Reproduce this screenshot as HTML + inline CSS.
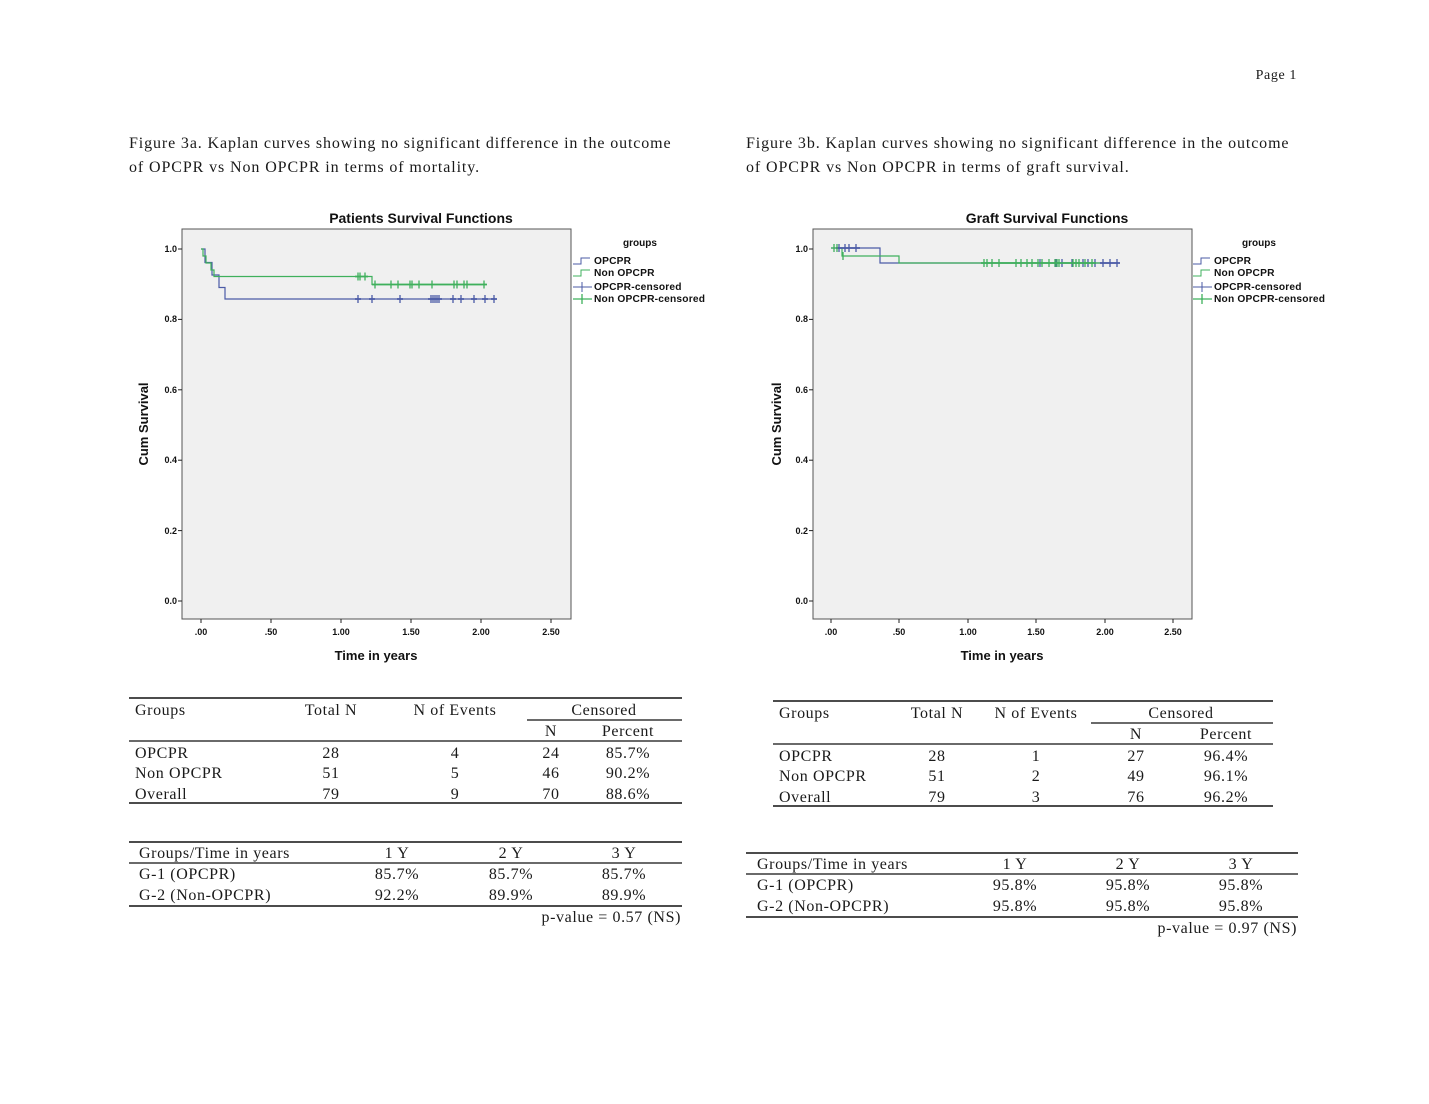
<!DOCTYPE html>
<html><head><meta charset="utf-8">
<style>
html,body{margin:0;padding:0;background:#fff;}
svg{display:block;}
.s{font-family:"Liberation Serif",serif;font-size:16px;fill:#1a1a1a;letter-spacing:0.6px;}
.tk{font-family:"Liberation Sans",sans-serif;font-size:9px;font-weight:bold;fill:#111;}
.ti{font-family:"Liberation Sans",sans-serif;font-size:14px;font-weight:bold;fill:#111;}
.lg{font-family:"Liberation Sans",sans-serif;font-size:10px;font-weight:bold;fill:#111;}
</style></head>
<body>
<svg width="1429" height="1104" viewBox="0 0 1429 1104" xmlns="http://www.w3.org/2000/svg">
<rect width="1429" height="1104" fill="#fff"/>
<text x="1297" y="79" text-anchor="end" class="s" style="font-size:14px">Page 1</text>

<text x="129" y="148" class="s" style="letter-spacing:0.88px">Figure 3a. Kaplan curves showing no significant difference in the outcome</text>
<text x="129" y="172" class="s" style="letter-spacing:0.9px">of OPCPR vs Non OPCPR in terms of mortality.</text>
<text x="746" y="148" class="s" style="letter-spacing:0.88px">Figure 3b. Kaplan curves showing no significant difference in the outcome</text>
<text x="746" y="172" class="s" style="letter-spacing:0.9px">of OPCPR vs Non OPCPR in terms of graft survival.</text>

<!-- LEFT CHART -->
<text x="421" y="223" text-anchor="middle" class="ti">Patients Survival Functions</text>
<rect x="182" y="229" width="389" height="390" fill="#f0f0f0" stroke="#555" stroke-width="1"/>
<g stroke="#222" stroke-width="1">
<line x1="178" y1="249" x2="182" y2="249"/><line x1="178" y1="319.4" x2="182" y2="319.4"/><line x1="178" y1="389.8" x2="182" y2="389.8"/><line x1="178" y1="460.2" x2="182" y2="460.2"/><line x1="178" y1="530.6" x2="182" y2="530.6"/><line x1="178" y1="601" x2="182" y2="601"/>
<line x1="201" y1="619" x2="201" y2="623"/><line x1="271" y1="619" x2="271" y2="623"/><line x1="341" y1="619" x2="341" y2="623"/><line x1="411" y1="619" x2="411" y2="623"/><line x1="481" y1="619" x2="481" y2="623"/><line x1="551" y1="619" x2="551" y2="623"/>
</g>
<g class="tk" text-anchor="end">
<text x="177" y="252">1.0</text><text x="177" y="322">0.8</text><text x="177" y="393">0.6</text><text x="177" y="463">0.4</text><text x="177" y="534">0.2</text><text x="177" y="604">0.0</text>
</g>
<g class="tk" text-anchor="middle">
<text x="201" y="635">.00</text><text x="271" y="635">.50</text><text x="341" y="635">1.00</text><text x="411" y="635">1.50</text><text x="481" y="635">2.00</text><text x="551" y="635">2.50</text>
</g>
<text x="376" y="660" text-anchor="middle" class="ti" style="font-size:13px">Time in years</text>
<text transform="translate(148,424) rotate(-90)" text-anchor="middle" class="ti" style="font-size:13px">Cum Survival</text>

<path d="M201,249 H205 V262.5 H212 V275 H219 V287.5 H225 V299 H495" fill="none" stroke="#4b5ba6" stroke-width="1.2"/>
<path d="M201,249 H203 V256 H206 V263 H211 V270 H214 V276.5 H372 V284.5 H486" fill="none" stroke="#3fb05c" stroke-width="1.2"/>
<g stroke="#4b5ba6" stroke-width="1.3">
<path d="M358,295v8M372,295v8M400,295v8M431,295v8M433,295v8M435,295v8M437,295v8M439,295v8M453,295v8M461,295v8M474,295v8M485,295v8M494,295v8"/>
<path d="M355,299h6M369,299h6M397,299h6M428,299h14M450,299h6M458,299h6M471,299h6M482,299h6M491,299h6" stroke-width="1.8"/>
</g>
<g stroke="#3fb05c" stroke-width="1.3">
<path d="M358,272.5v8M360,272.5v8M365,272.5v8M375,280.5v8M391,280.5v8M398,280.5v8M410,280.5v8M412,280.5v8M419,280.5v8M432,280.5v8M454,280.5v8M457,280.5v8M464,280.5v8M467,280.5v8M484,280.5v8"/>
<path d="M355,276.5h13M372,284.5h115" stroke-width="1.8"/>
</g>
<text x="640" y="246" text-anchor="middle" class="lg">groups</text>
<path d="M573,264 H581 V258 H590" fill="none" stroke="#4b5ba6"/>
<path d="M573,276 H581 V270 H590" fill="none" stroke="#3fb05c"/>
<path d="M573,287 H592 M582,282 V292" stroke="#4b5ba6"/>
<path d="M573,299 H592 M582,294 V304" stroke="#3fb05c" stroke-width="1.3"/>
<g class="lg" style="font-size:10.2px;letter-spacing:0.2px"><text x="594" y="264">OPCPR</text><text x="594" y="276">Non OPCPR</text><text x="594" y="290">OPCPR-censored</text><text x="594" y="302">Non OPCPR-censored</text></g>

<!-- RIGHT CHART -->
<text x="1047" y="223" text-anchor="middle" class="ti">Graft Survival Functions</text>
<rect x="813" y="229" width="379" height="390" fill="#f0f0f0" stroke="#555" stroke-width="1"/>
<g stroke="#222" stroke-width="1">
<line x1="809" y1="249" x2="813" y2="249"/><line x1="809" y1="319.4" x2="813" y2="319.4"/><line x1="809" y1="389.8" x2="813" y2="389.8"/><line x1="809" y1="460.2" x2="813" y2="460.2"/><line x1="809" y1="530.6" x2="813" y2="530.6"/><line x1="809" y1="601" x2="813" y2="601"/>
<line x1="831" y1="619" x2="831" y2="623"/><line x1="899" y1="619" x2="899" y2="623"/><line x1="968" y1="619" x2="968" y2="623"/><line x1="1036" y1="619" x2="1036" y2="623"/><line x1="1105" y1="619" x2="1105" y2="623"/><line x1="1173" y1="619" x2="1173" y2="623"/>
</g>
<g class="tk" text-anchor="end">
<text x="808" y="252">1.0</text><text x="808" y="322">0.8</text><text x="808" y="393">0.6</text><text x="808" y="463">0.4</text><text x="808" y="534">0.2</text><text x="808" y="604">0.0</text>
</g>
<g class="tk" text-anchor="middle">
<text x="831" y="635">.00</text><text x="899" y="635">.50</text><text x="968" y="635">1.00</text><text x="1036" y="635">1.50</text><text x="1105" y="635">2.00</text><text x="1173" y="635">2.50</text>
</g>
<text x="1002" y="660" text-anchor="middle" class="ti" style="font-size:13px">Time in years</text>
<text transform="translate(781,424) rotate(-90)" text-anchor="middle" class="ti" style="font-size:13px">Cum Survival</text>

<path d="M831,248 H880 V263 H1118" fill="none" stroke="#4b5ba6" stroke-width="1.2"/>
<path d="M831,248 H842 V256 H899 V263 H1100" fill="none" stroke="#3fb05c" stroke-width="1.2"/>
<g stroke="#4b5ba6" stroke-width="1.3">
<path d="M839,244v8M845,244v8M849,244v8M856,244v8M1040,259v8M1056,259v8M1062,259v8M1072,259v8M1083,259v8M1088,259v8M1095,259v8M1103,259v8M1110,259v8M1117,259v8"/>
<path d="M836,248h24M1100,263h20" stroke-width="1.8"/>
</g>
<g stroke="#3fb05c" stroke-width="1.3">
<path d="M834,244v8M837,244v8M843,252v8M984,259v8M987,259v8M992,259v8M999,259v8M1016,259v8M1021,259v8M1027,259v8M1032,259v8M1038,259v8M1042,259v8M1049,259v8M1055,259v8M1057,259v8M1059,259v8M1073,259v8M1076,259v8M1079,259v8M1085,259v8M1092,259v8"/>
<path d="M981,263h115" stroke-width="1.8"/>
</g>
<text x="1259" y="246" text-anchor="middle" class="lg">groups</text>
<path d="M1193,264 H1201 V258 H1210" fill="none" stroke="#4b5ba6"/>
<path d="M1193,276 H1201 V270 H1210" fill="none" stroke="#3fb05c"/>
<path d="M1193,287 H1212 M1202,282 V292" stroke="#4b5ba6"/>
<path d="M1193,299 H1212 M1202,294 V304" stroke="#3fb05c" stroke-width="1.3"/>
<g class="lg" style="font-size:10.2px;letter-spacing:0.2px"><text x="1214" y="264">OPCPR</text><text x="1214" y="276">Non OPCPR</text><text x="1214" y="290">OPCPR-censored</text><text x="1214" y="302">Non OPCPR-censored</text></g>

<!-- LEFT TABLE 1 -->
<g stroke="#111">
<line x1="129" y1="698" x2="682" y2="698" stroke-width="1.5"/>
<line x1="527" y1="720" x2="682" y2="720" stroke-width="1.2"/>
<line x1="129" y1="741" x2="682" y2="741" stroke-width="1.2"/>
<line x1="129" y1="803" x2="682" y2="803" stroke-width="1.5"/>
<line x1="129" y1="842" x2="682" y2="842" stroke-width="1.5"/>
<line x1="129" y1="863" x2="682" y2="863" stroke-width="1.2"/>
<line x1="129" y1="906" x2="682" y2="906" stroke-width="1.5"/>
</g>
<g class="s">
<text x="135" y="715">Groups</text>
<text x="331" y="715" text-anchor="middle">Total N</text>
<text x="455" y="715" text-anchor="middle">N of Events</text>
<text x="604" y="715" text-anchor="middle">Censored</text>
<text x="551" y="736" text-anchor="middle">N</text>
<text x="628" y="736" text-anchor="middle">Percent</text>
<text x="135" y="758">OPCPR</text><text x="331" y="758" text-anchor="middle">28</text><text x="455" y="758" text-anchor="middle">4</text><text x="551" y="758" text-anchor="middle">24</text><text x="628" y="758" text-anchor="middle">85.7%</text>
<text x="135" y="778">Non OPCPR</text><text x="331" y="778" text-anchor="middle">51</text><text x="455" y="778" text-anchor="middle">5</text><text x="551" y="778" text-anchor="middle">46</text><text x="628" y="778" text-anchor="middle">90.2%</text>
<text x="135" y="799">Overall</text><text x="331" y="799" text-anchor="middle">79</text><text x="455" y="799" text-anchor="middle">9</text><text x="551" y="799" text-anchor="middle">70</text><text x="628" y="799" text-anchor="middle">88.6%</text>
<text x="139" y="858">Groups/Time in years</text><text x="397" y="858" text-anchor="middle">1 Y</text><text x="511" y="858" text-anchor="middle">2 Y</text><text x="624" y="858" text-anchor="middle">3 Y</text>
<text x="139" y="879">G-1 (OPCPR)</text><text x="397" y="879" text-anchor="middle">85.7%</text><text x="511" y="879" text-anchor="middle">85.7%</text><text x="624" y="879" text-anchor="middle">85.7%</text>
<text x="139" y="900">G-2 (Non-OPCPR)</text><text x="397" y="900" text-anchor="middle">92.2%</text><text x="511" y="900" text-anchor="middle">89.9%</text><text x="624" y="900" text-anchor="middle">89.9%</text>
<text x="681" y="922" text-anchor="end">p-value = 0.57 (NS)</text>
</g>

<!-- RIGHT TABLES -->
<g stroke="#111">
<line x1="773" y1="701" x2="1273" y2="701" stroke-width="1.5"/>
<line x1="1091" y1="723" x2="1273" y2="723" stroke-width="1.2"/>
<line x1="773" y1="744" x2="1273" y2="744" stroke-width="1.2"/>
<line x1="773" y1="806" x2="1273" y2="806" stroke-width="1.5"/>
<line x1="746" y1="853" x2="1298" y2="853" stroke-width="1.5"/>
<line x1="746" y1="874" x2="1298" y2="874" stroke-width="1.2"/>
<line x1="746" y1="917" x2="1298" y2="917" stroke-width="1.5"/>
</g>
<g class="s">
<text x="779" y="718">Groups</text>
<text x="937" y="718" text-anchor="middle">Total N</text>
<text x="1036" y="718" text-anchor="middle">N of Events</text>
<text x="1181" y="718" text-anchor="middle">Censored</text>
<text x="1136" y="739" text-anchor="middle">N</text>
<text x="1226" y="739" text-anchor="middle">Percent</text>
<text x="779" y="761">OPCPR</text><text x="937" y="761" text-anchor="middle">28</text><text x="1036" y="761" text-anchor="middle">1</text><text x="1136" y="761" text-anchor="middle">27</text><text x="1226" y="761" text-anchor="middle">96.4%</text>
<text x="779" y="781">Non OPCPR</text><text x="937" y="781" text-anchor="middle">51</text><text x="1036" y="781" text-anchor="middle">2</text><text x="1136" y="781" text-anchor="middle">49</text><text x="1226" y="781" text-anchor="middle">96.1%</text>
<text x="779" y="802">Overall</text><text x="937" y="802" text-anchor="middle">79</text><text x="1036" y="802" text-anchor="middle">3</text><text x="1136" y="802" text-anchor="middle">76</text><text x="1226" y="802" text-anchor="middle">96.2%</text>
<text x="757" y="869">Groups/Time in years</text><text x="1015" y="869" text-anchor="middle">1 Y</text><text x="1128" y="869" text-anchor="middle">2 Y</text><text x="1241" y="869" text-anchor="middle">3 Y</text>
<text x="757" y="890">G-1 (OPCPR)</text><text x="1015" y="890" text-anchor="middle">95.8%</text><text x="1128" y="890" text-anchor="middle">95.8%</text><text x="1241" y="890" text-anchor="middle">95.8%</text>
<text x="757" y="911">G-2 (Non-OPCPR)</text><text x="1015" y="911" text-anchor="middle">95.8%</text><text x="1128" y="911" text-anchor="middle">95.8%</text><text x="1241" y="911" text-anchor="middle">95.8%</text>
<text x="1297" y="933" text-anchor="end">p-value = 0.97 (NS)</text>
</g>
</svg>
</body></html>
